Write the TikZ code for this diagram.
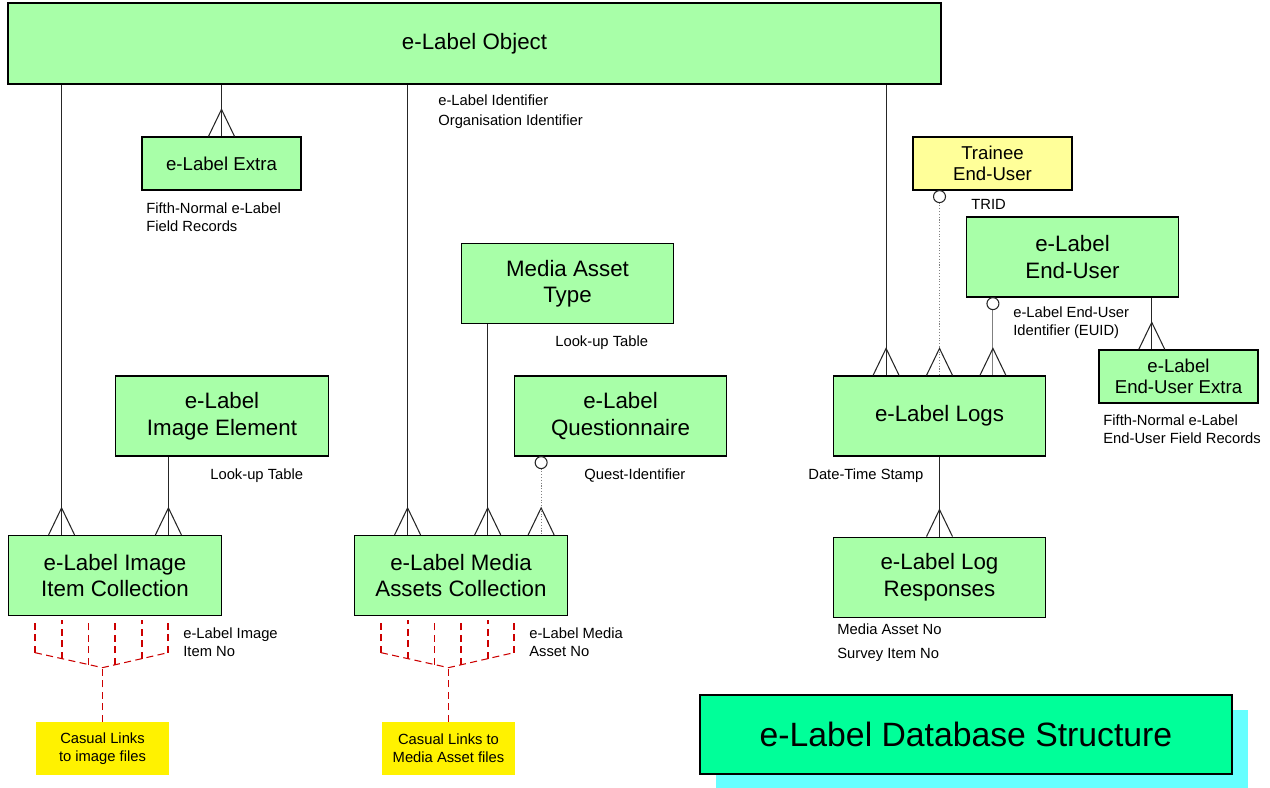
\documentclass[tikz,border=0pt]{standalone}
\usepackage{fontspec}
\setmainfont{Liberation Sans}
\usetikzlibrary{calc,positioning,shadows}

\definecolor{tblgreen}{RGB}{168,255,168}
\definecolor{trnyellow}{RGB}{255,255,153}
\definecolor{linkred}{RGB}{204,0,0}
\definecolor{titlegreen}{RGB}{0,255,153}
\definecolor{titleshade}{RGB}{102,255,255}

% "many" end of a relationship, opening downwards onto the point
\newcommand{\crowfoot}[1]{\draw[rel] ($(#1)+(-13,0)$) -- ($(#1)+(0,-27)$) -- ($(#1)+(13,0)$);}

\begin{document}
\begin{tikzpicture}[
  x=0.02cm, y=-0.02cm,
  every node/.style={font=\fontsize{12.7}{15.1}\selectfont},
  tbl/.style={
    draw,
    line width=0.7pt,
    fill=tblgreen,
    align=center,
    inner sep=0pt,
    minimum width=4.25cm,
    minimum height=1.6cm
  },
  xtbl/.style={tbl, minimum width=3.18cm, minimum height=1.06cm,
    font=\fontsize{10.6}{12.3}\selectfont},
  note/.style={align=left, inner sep=0pt, font=\fontsize{8.4}{10.2}\selectfont},
  filebox/.style={fill=yellow, align=center, inner sep=0pt,
    minimum width=2.66cm, minimum height=1.06cm,
    font=\fontsize{8.4}{10.2}\selectfont},
  rel/.style={line width=0.6pt, black!85},
  opt/.style={line width=0.6pt, gray, densely dotted},
  link/.style={line width=0.6pt, linkred, dash pattern=on 4pt off 2.5pt}
]
\useasboundingbox (0,0) rectangle (1270,787);

% tables
\node[tbl, minimum width=18.66cm, minimum height=1.62cm] (obj) at (474.5,43.5) {e-Label Object};
\node[xtbl] (extra) at (221.5,163.5) {e-Label Extra};
\node[tbl] (imgel) at (222,416) {e-Label\\Image Element};
\node[tbl] (imgcol) at (115,575.5) {e-Label Image\\Item Collection};
\node[tbl] (mtype) at (567.5,283.5) {Media Asset\\Type};
\node[tbl] (quest) at (620.5,416) {e-Label\\Questionnaire};
\node[tbl] (mcol) at (461,575.5) {e-Label Media\\Assets Collection};
\node[xtbl, fill=trnyellow] (trainee) at (992.5,163.5) {Trainee\\End-User};
\node[tbl] (user) at (1072.5,257) {e-Label\\End-User};
\node[xtbl] (userx) at (1178.5,376.5) {e-Label\\End-User Extra};
\node[tbl] (logs) at (939.5,416) {e-Label Logs};
\node[tbl, below=1.6cm of logs] (resp) {e-Label Log\\Responses};

% external files
\node[filebox] (imgfiles) at (102.5,748.5) {Casual Links\\to image files};
\node[filebox] (mfiles) at (448.5,748.5) {Casual Links to\\Media Asset files};

\node[draw, line width=1pt, fill=titlegreen, minimum width=10.64cm, minimum height=1.58cm,
  general shadow={fill=titleshade, shadow xshift=0.32cm, shadow yshift=-0.3cm},
  font=\fontsize{19.2}{23}\selectfont] (title) at (966,734.5) {e-Label Database Structure};

% where the relationships meet the child tables
\coordinate (ic1) at ($(imgcol.north west)!.25!(imgcol.north east)$);
\coordinate (ic2) at ($(imgcol.north west)!.75!(imgcol.north east)$);
\coordinate (mc1) at ($(mcol.north west)!.25!(mcol.north east)$);
\coordinate (mc2) at ($(mcol.north west)!.625!(mcol.north east)$);
\coordinate (mc3) at ($(mcol.north west)!.875!(mcol.north east)$);
\coordinate (lg1) at ($(logs.north west)!.25!(logs.north east)$);
\coordinate (lg3) at ($(logs.north west)!.75!(logs.north east)$);
\coordinate (ux) at ($(userx.north west)!.333!(userx.north east)$);

% relationships
\draw[rel] (obj.south -| extra.north) -- (extra.north); \crowfoot{extra.north}
\draw[rel] (obj.south -| ic1) -- (ic1); \crowfoot{ic1}
\draw[rel] (imgel.south -| ic2) -- (ic2); \crowfoot{ic2}
\draw[rel] (obj.south -| mc1) -- (mc1); \crowfoot{mc1}
\draw[rel] (mtype.south -| mc2) -- (mc2); \crowfoot{mc2}
\draw[opt] ($(quest.south -| mc3)+(0,12)$) -- (mc3); \crowfoot{mc3}
\draw[rel, fill=white] ($(quest.south -| mc3)+(0,6)$) circle[radius=0.12cm];
\draw[rel] (obj.south -| lg1) -- (lg1); \crowfoot{lg1}
\draw[opt] ($(trainee.south -| logs.north)+(0,12)$) -- (logs.north); \crowfoot{logs.north}
\draw[rel, fill=white] ($(trainee.south -| logs.north)+(0,6)$) circle[radius=0.12cm];
\draw[rel, gray] ($(user.south -| lg3)+(0,12)$) -- (lg3); \crowfoot{lg3}
\draw[rel, fill=white] ($(user.south -| lg3)+(0,6)$) circle[radius=0.12cm];
\draw[rel] (user.south -| ux) -- (ux); \crowfoot{ux}
\draw[rel] (logs.south) -- (resp.north); \crowfoot{resp.north}

% links out to the files
\coordinate (j1) at ($(imgfiles.north)+(0,-54)$);
\coordinate (j2) at ($(mfiles.north)+(0,-54)$);
\draw[link] (imgfiles.north) -- (j1);
\draw[link] (mfiles.north) -- (j2);
\foreach \j in {j1,j2} {
  \draw[link] ($(\j)+(-67.5,-15)$) -- (\j) -- ($(\j)+(65.5,-15)$);
  \foreach \dx/\dy in {-67.5/-15,-40.5/-9,-14/-3,12.5/-3,39.5/-9,65.5/-15}
    \draw[link] ($(\j)+(\dx,\dy)$) -- ($(\j)+(\dx,-48)$);
}

% keys and notes
\node[note, anchor=west] (objkey) at (438,100) {e-Label Identifier};
\node[note, anchor=west] (orgkey) at (438,122) {Organisation Identifier};
\node[note, anchor=west] (extranote) at (146,217) {Fifth-Normal e-Label\\Field Records};
\node[note, anchor=west] (mtypenote) at (555,343) {Look-up Table};
\node[note, anchor=west] (imgelnote) at (210,476) {Look-up Table};
\node[note, anchor=west] (questkey) at (584,476) {Quest-Identifier};
\node[note, anchor=west] (trid) at (971,204) {TRID};
\node[note, anchor=west] (euid) at (1013,323) {e-Label End-User\\Identifier (EUID)};
\node[note, anchor=west] (userxnote) at (1103,429) {Fifth-Normal e-Label\\End-User Field Records};
\node[note, anchor=west] (stamp) at (808,476) {Date-Time Stamp};
\node[note, anchor=west] (mediano) at (837,629) {Media Asset No};
\node[note, anchor=west] (surveyno) at (837,655) {Survey Item No};
\node[note, anchor=west] (itemno) at (183,642) {e-Label Image\\Item No};
\node[note, anchor=west] (assetno) at (529,642) {e-Label Media\\Asset No};
\end{tikzpicture}
\end{document}
